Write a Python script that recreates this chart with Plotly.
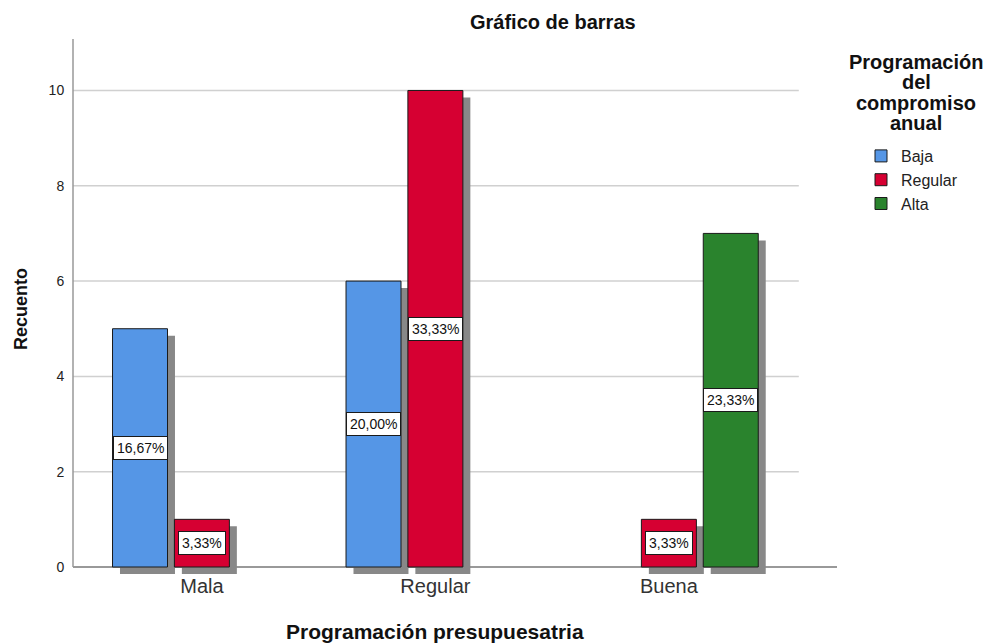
import plotly.graph_objects as go

categories = ["Mala", "Regular", "Buena"]
series_names = ["Baja", "Regular", "Alta"]
baja = [5, 6, None]
regular = [1, 10, 1]
alta = [None, None, 7]
pct_baja = ["16,67%", "20,00%", None]
pct_regular = ["3,33%", "33,33%", "3,33%"]
pct_alta = [None, None, "23,33%"]
y_ticks = [0, 2, 4, 6, 8, 10]
legend_title_lines = ["Programación", "del", "compromiso", "anual"]

colors = ["#5596E6", "#D60032", "#2A832D"]
values = [baja, regular, alta]
pcts = [pct_baja, pct_regular, pct_alta]

FONT = "Liberation Sans, Arial, sans-serif"
slot = 0.265
bw = 0.2355
centers = [-slot, 0.0, slot]
sh_dx = 0.032
sh_dy = 0.147
ymax = 11.08

# figure geometry (page has 8px body margin)
W, H = 987, 635
L, R, T, B = 65, 158, 31, 69
PW = W - L - R
PH = H - T - B


def py(fig_y):
    return (H - B - fig_y) / PH


fig = go.Figure()

# shadows
for vals, c in zip(values, centers):
    fig.add_trace(go.Bar(
        x=categories, y=vals, base=[-sh_dy] * len(vals),
        width=bw, offset=c - bw / 2 + sh_dx,
        marker=dict(color="#888888", line=dict(width=0)),
        showlegend=False, hoverinfo="skip"))

# bars
for name, vals, c, col in zip(series_names, values, centers, colors):
    fig.add_trace(go.Bar(
        x=categories, y=vals, name=name,
        width=bw, offset=c - bw / 2,
        marker=dict(color=col, line=dict(color="#1a1a1a", width=1))))

# labels
for vals, pc, c in zip(values, pcts, centers):
    for i, (v, p) in enumerate(zip(vals, pc)):
        if v is None or p is None:
            continue
        fig.add_annotation(x=i + c, y=v / 2, xref="x", yref="y", text=p,
                           showarrow=False, bgcolor="white", bordercolor="#1a1a1a",
                           borderwidth=1, borderpad=3,
                           font=dict(family=FONT, size=14, color="#111"))

# gridlines
for t in y_ticks[1:]:
    fig.add_shape(type="line", xref="paper", yref="y", x0=0, x1=0.950, y0=t, y1=t,
                  line=dict(color="#d0d0d0", width=1.5), layer="below")
# axis lines
fig.add_shape(type="line", xref="paper", yref="y", x0=0, x1=1, y0=0, y1=0,
              line=dict(color="#777777", width=1.5), layer="below")
fig.add_shape(type="line", xref="paper", yref="y", x0=0, x1=0, y0=0, y1=ymax,
              line=dict(color="#999999", width=1.5), layer="below")

fig.add_annotation(text="<b>Gráfico de barras</b>", xref="paper", yref="paper",
                   x=(545 - L) / PW, xanchor="center", y=1, yanchor="middle",
                   yshift=T - 14, showarrow=False,
                   font=dict(family=FONT, size=20, color="#111"))
fig.add_annotation(text="<b>Programación presupuesatria</b>", xref="x", yref="paper",
                   x=1, xanchor="center", y=0, yanchor="middle", yshift=-57,
                   showarrow=False, font=dict(family=FONT, size=21, color="#111"))
fig.add_annotation(text="<b>Recuento</b>", xref="paper", yref="paper",
                   x=0, xanchor="center", xshift=-(L - 13), y=py(301), yanchor="middle",
                   textangle=-90, showarrow=False,
                   font=dict(family=FONT, size=18, color="#111"))
for k, line in enumerate(legend_title_lines):
    fig.add_annotation(text="<b>" + line + "</b>", xref="paper", yref="paper",
                       x=1, xanchor="center", xshift=908 - (L + PW),
                       y=py(53.7 + 20.5 * k), yanchor="middle", showarrow=False,
                       font=dict(family=FONT, size=20, color="#111"))

fig.update_layout(
    width=W, height=H,
    margin=dict(l=L, r=R, t=T, b=B),
    paper_bgcolor="white", plot_bgcolor="white",
    barmode="overlay",
    font=dict(family=FONT),
    showlegend=True,
    legend=dict(x=(853 - L) / PW, y=py(131), xanchor="left", yanchor="top",
                font=dict(family=FONT, size=16, color="#222"),
                tracegroupgap=0, itemwidth=30, bgcolor="rgba(0,0,0,0)"),
    xaxis=dict(type="category", categoryorder="array", categoryarray=categories,
               range=[-0.552, 2.72], showgrid=False, showline=False, zeroline=False,
               ticks="", ticklabelstandoff=-2,
               tickfont=dict(family=FONT, size=20, color="#333")),
    yaxis=dict(range=[-sh_dy, ymax], tickvals=y_ticks, showgrid=False,
               showline=False, zeroline=False,
               ticks="outside", ticklen=5, tickcolor="rgba(0,0,0,0)",
               tickfont=dict(family=FONT, size=14, color="#222")),
)

fig.write_html("out.html")
